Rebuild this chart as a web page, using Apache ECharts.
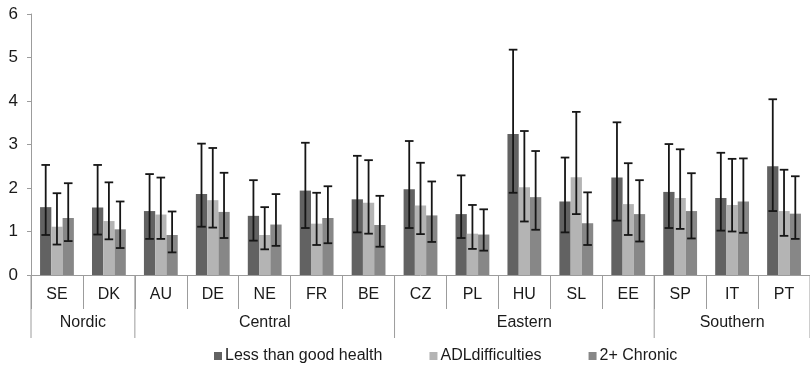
<!DOCTYPE html>
<html>
<head>
<meta charset="utf-8">
<script src="https://cdn.jsdelivr.net/npm/echarts@6/dist/echarts.min.js"></script>
<style>
html,body{margin:0;padding:0;background:#fff;}
#c{width:810px;height:367px;}
</style>
</head>
<body>
<div id="c"></div>
<script>
// ---- data ----
const countries = ['SE','DK','AU','DE','NE','FR','BE','CZ','PL','HU','SL','EE','SP','IT','PT'];
const seriesNames = ['Less than good health','ADLdifficulties','2+ Chronic'];

const poorHealth    = [1.56,1.55,1.47,1.86,1.36,1.94,1.74,1.97,1.40,3.24,1.69,2.24,1.91,1.77,2.50];
const poorHealthLo  = [0.92,0.93,0.83,1.11,0.79,1.08,0.98,1.08,0.85,1.89,0.98,1.25,1.08,1.02,1.47];
const poorHealthHi  = [2.53,2.53,2.32,3.02,2.18,3.04,2.74,3.08,2.29,5.18,2.70,3.51,3.01,2.81,4.04];

const adl           = [1.11,1.24,1.39,1.72,0.92,1.18,1.66,1.60,0.95,2.02,2.25,1.63,1.77,1.61,1.47];
const adlLo         = [0.70,0.82,0.83,1.09,0.59,0.69,0.95,0.94,0.60,1.23,1.40,0.92,1.06,1.00,0.90];
const adlHi         = [1.88,2.13,2.24,2.92,1.56,1.89,2.64,2.58,1.61,3.31,3.75,2.57,2.89,2.67,2.42];

const chronic       = [1.31,1.05,0.92,1.45,1.16,1.31,1.15,1.37,0.93,1.79,1.19,1.40,1.47,1.69,1.41];
const chronicLo     = [0.78,0.62,0.52,0.85,0.67,0.73,0.65,0.76,0.56,1.04,0.69,0.77,0.84,0.97,0.83];
const chronicHi     = [2.11,1.69,1.46,2.35,1.86,2.04,1.82,2.15,1.51,2.85,1.90,2.18,2.34,2.68,2.27];

const groupNames = ['Nordic','Central','Eastern','Southern'];
const groupStart = [0,2,7,12];
const groupEnd   = [1,6,11,14];

const yTicks = [0,1,2,3,4,5,6];

// ---- styling ----
const FONT = 'Liberation Sans, Arial, sans-serif';
const colors = ['#626262','#b4b4b4','#878787'];
const BAR_FRAC = 0.217;
const axisGray = '#9c9c9c';

const chart = echarts.init(document.getElementById('c'), null, {renderer:'canvas'});

function errSeries(name, lo, hi, offIdx){
  return {
    type:'custom',
    name: name + ' CI',
    clip:false,
    z:5,
    silent:true,
    data: countries.map((c,i)=>[i, lo[i], hi[i]]),
    encode:{x:0, y:[1,2]},
    renderItem:function(params, api){
      const i = api.value(0);
      const pLo = api.coord([i, api.value(1)]);
      const pHi = api.coord([i, api.value(2)]);
      const bw = api.size([1,0])[0] * BAR_FRAC;
      const cx = pLo[0] + offIdx*bw;
      const cap = 4.3;
      const st = {stroke:'#161616', lineWidth:1.8};
      return {type:'group', children:[
        {type:'line', shape:{x1:cx,y1:pLo[1],x2:cx,y2:pHi[1]}, style:st},
        {type:'line', shape:{x1:cx-cap,y1:pHi[1],x2:cx+cap,y2:pHi[1]}, style:st},
        {type:'line', shape:{x1:cx-cap,y1:pLo[1],x2:cx+cap,y2:pLo[1]}, style:st}
      ]};
    }
  };
}

const groupSeries = {
  type:'custom',
  name:'groups',
  clip:false,
  silent:true,
  data: groupNames.map((g,k)=>[groupStart[k], 0, groupEnd[k]]),
  encode:{x:0, y:1},
  renderItem:function(params, api){
    const k = params.dataIndex;
    const s = api.value(0), e = api.value(2);
    const band = api.size([1,0])[0];
    const a = api.coord([s,0]);
    const b = api.coord([e,0]);
    const xl = a[0] - band/2, xr = b[0] + band/2;
    const y0 = a[1];
    const ls = {stroke:axisGray, lineWidth:1};
    const children = [
      {type:'line', shape:{x1:xl,y1:y0,x2:xl,y2:y0+63}, style:ls},
      {type:'text', style:{text:groupNames[k], x:(xl+xr)/2, y:y0+48, align:'center', verticalAlign:'middle',
        font:'16px ' + FONT, fill:'#1a1a1a'}}
    ];
    if (k === groupNames.length-1){
      children.push({type:'line', shape:{x1:xr,y1:y0,x2:xr,y2:y0+63}, style:ls});
    }
    return {type:'group', children:children};
  }
};

const option = {
  animation:false,
  backgroundColor:'#fff',
  grid:{left:31, top:14, width:783, bottom:92, containLabel:false},
  legend:{
    data:seriesNames,
    left:209, top:343,
    icon:'rect', itemWidth:8, itemHeight:8, itemGap:47,
    textStyle:{fontFamily:FONT, fontSize:16, color:'#1a1a1a', padding:[0,0,0,-2]}
  },
  xAxis:{
    type:'category',
    data:countries,
    axisLine:{lineStyle:{color:axisGray, width:1}},
    axisTick:{show:true, length:34, interval:0, lineStyle:{color:axisGray}},
    axisLabel:{interval:0, margin:12, fontFamily:FONT, fontSize:16, color:'#1a1a1a'},
    splitLine:{show:false}
  },
  yAxis:{
    type:'value', min:0, max:6, interval:1,
    axisLine:{show:true, lineStyle:{color:axisGray}},
    axisTick:{show:true, length:4, lineStyle:{color:axisGray}},
    axisLabel:{margin:13, fontFamily:FONT, fontSize:17, color:'#1a1a1a',
      formatter:function(v){return yTicks.indexOf(v)>=0 ? String(v) : '';}},
    splitLine:{show:false}
  },
  series:[
    {type:'bar', name:seriesNames[0], data:poorHealth, barWidth:(BAR_FRAC*100)+'%', barGap:'0%', itemStyle:{color:colors[0]}},
    {type:'bar', name:seriesNames[1], data:adl, barWidth:(BAR_FRAC*100)+'%', barGap:'0%', itemStyle:{color:colors[1]}},
    {type:'bar', name:seriesNames[2], data:chronic, barWidth:(BAR_FRAC*100)+'%', barGap:'0%', itemStyle:{color:colors[2]}},
    errSeries(seriesNames[0], poorHealthLo, poorHealthHi, -1),
    errSeries(seriesNames[1], adlLo, adlHi, 0),
    errSeries(seriesNames[2], chronicLo, chronicHi, 1),
    groupSeries
  ]
};
chart.setOption(option);
</script>
</body>
</html>
